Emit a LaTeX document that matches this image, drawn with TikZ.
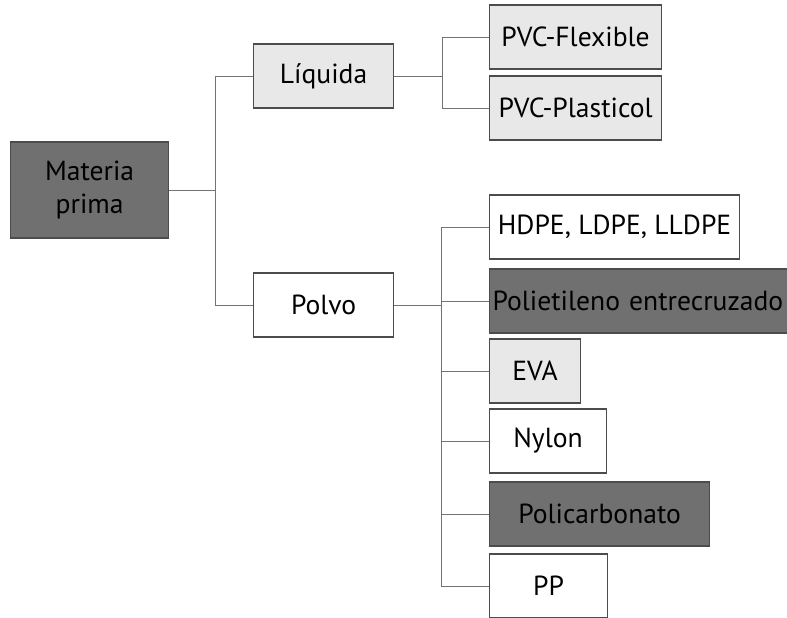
\documentclass[tikz,border=0pt]{standalone}
\usepackage{fontspec}
\setmainfont{PT Sans}
\begin{document}
\begin{tikzpicture}[x=0.5pt,y=-0.5pt,
  box/.style={draw=black!70,line width=0.6pt,anchor=west,minimum height=32pt,inner sep=0pt,
    font=\fontsize{13.8}{16.5}\selectfont,text=black,align=center},
  dark/.style={box,fill=black!56},
  light/.style={box,fill=black!9},
  plain/.style={box,fill=white},
  link/.style={draw=black!55,line width=0.5pt}]
\useasboundingbox (0,0) rectangle (787,617);
\clip (0,0) rectangle (787,617);
\node[dark,minimum width=79pt,minimum height=48pt] (mp) at (10,190) {Materia\\prima};
\node[light,minimum width=70pt] (liq) at (253,76) {Líquida};
\node[plain,minimum width=70pt] (pol) at (253,305) {Polvo};
\node[light,minimum width=86pt] (pf) at (489,37) {PVC-Flexible};
\node[light,minimum width=86pt] (pp2) at (489,108) {PVC-Plasticol};
\node[plain,minimum width=125pt] (hd) at (489,227) {HDPE, LDPE, LLDPE};
\node[dark,minimum width=160pt,text width=158pt,align=left] (pe) at (489,301) {\hspace{0.5pt}Polietileno entrecruzado};
\node[light,minimum width=45.5pt] (eva) at (489,371) {EVA};
\node[plain,minimum width=58.5pt] (ny) at (489,441) {Nylon};
\node[dark,minimum width=110pt] (pc) at (489,514) {Policarbonato};
\node[plain,minimum width=59pt] (pp) at (489,586) {PP};
\coordinate (b1) at (215,190);
\coordinate (b2) at (442,76);
\coordinate (b3) at (441,305);
\draw[link] (mp.east) -- (b1);
\draw[link] (b1) |- (liq.west);
\draw[link] (b1) |- (pol.west);
\draw[link] (liq.east) -- (b2);
\draw[link] (b2) |- (pf.west);
\draw[link] (b2) |- (pp2.west);
\draw[link] (pol.east) -- (b3);
\draw[link] (b3) |- (hd.west);
\draw[link] (b3) |- (pe.west);
\draw[link] (b3) |- (eva.west);
\draw[link] (b3) |- (ny.west);
\draw[link] (b3) |- (pc.west);
\draw[link] (b3) |- (pp.west);
\end{tikzpicture}
\end{document}
